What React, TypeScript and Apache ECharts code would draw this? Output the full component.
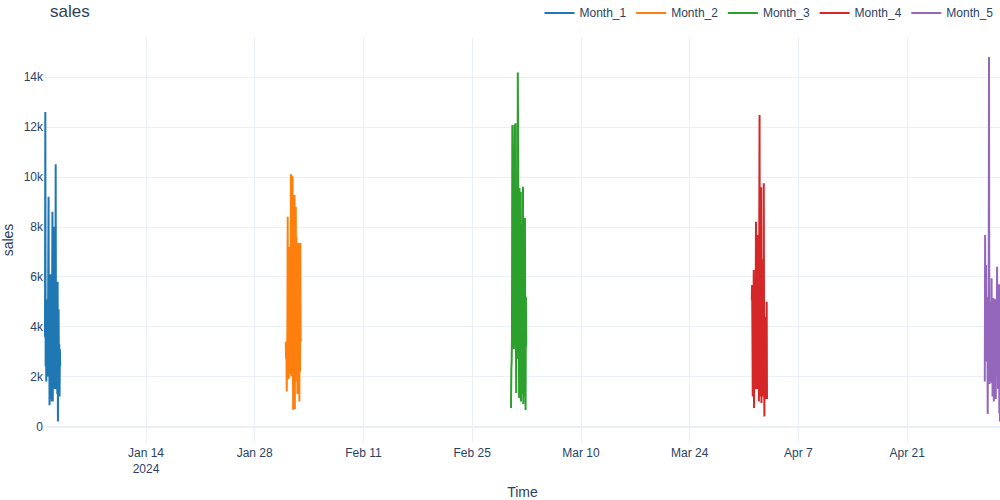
import React, { useEffect, useRef } from "react";
import * as echarts from "echarts";

const SERIES_NAMES = ["Month_1", "Month_2", "Month_3", "Month_4", "Month_5"];
const COLORS = ["#1f77b4", "#ff7f0e", "#2ca02c", "#d62728", "#9467bd"];
// first day of each burst (UTC), hourly samples
const START_DATES = ["2024-01-01", "2024-02-01", "2024-03-01", "2024-04-01", "2024-05-01"];

const month1 = [
  3600, 12600, 2400, 5000, 1800, 4300, 2300, 5100,
  2000, 3000, 6000, 9200, 2400, 4800, 850, 4000,
  1900, 6100, 1100, 4600, 6000, 1000, 5200, 8600,
  1000, 5200, 2600, 4200, 1500, 8000, 2900, 3900,
  1500, 10500, 1800, 4500, 2200, 3600, 1300, 5800,
  200, 2800, 4700, 1900, 3300, 1200, 3100, 2400,
];
const month2 = [
  3400, 2700, 3300, 1400, 2800, 4000, 8400, 2000,
  6500, 1900, 7200, 2100, 5000, 2300, 6800, 3000,
  10100, 2000, 7800, 10050, 3500, 10000, 2600, 660,
  7000, 2200, 8000, 9270, 700, 6000, 2500, 8800,
  1800, 7600, 2200, 6800, 1300, 5500, 2800, 7350,
  1900, 6300, 1000, 7300, 2200, 7350, 3400, 3500,
];
const month3 = [
  740, 2300, 2600, 3500, 12080, 3200, 9000, 3300,
  7500, 3100, 10500, 12100, 3400, 8200, 12150, 4000,
  1340, 6500, 3200, 8800, 2700, 14180, 11150, 3000,
  6200, 1140, 9550, 4200, 1500, 7800, 9400, 1000,
  6600, 2400, 8100, 1300, 5200, 9600, 900, 7400,
  2500, 6300, 1200, 8350, 3500, 660, 5200, 3200,
];
const month4 = [
  5070, 5670, 3800, 1200, 4500, 2000, 6270, 740,
  3500, 1500, 5200, 2200, 4800, 8200, 1500, 5600,
  2000, 6800, 1500, 7670, 1900, 5200, 1000, 7400,
  12480, 1200, 6400, 2300, 7000, 9580, 940, 5000,
  1700, 6700, 2300, 4300, 1200, 9740, 3000, 400,
  4400, 1600, 3800, 1100, 4200, 2000, 5000, 1100,
];
const month5 = [
  1800, 7670, 3000, 3500, 6470, 2600, 5200, 3000,
  4800, 500, 3800, 2000, 4500, 14800, 3700, 1700,
  5000, 2200, 4200, 1800, 3000, 5940, 1740, 4600,
  1200, 3900, 2800, 5150, 1000, 4300, 1900, 4600,
  2500, 5100, 1100, 3600, 2000, 4400, 6400, 2600,
  3800, 1500, 4800, 2200, 5700, 530, 3000, 200,
];
const SERIES_VALUES = [month1, month2, month3, month4, month5];

const X_TICK_DATES = ["2024-01-14", "2024-01-28", "2024-02-11", "2024-02-25", "2024-03-10", "2024-03-24", "2024-04-07", "2024-04-21"];
const MONTH_ABBR = ["Jan", "Feb", "Mar", "Apr", "May", "Jun", "Jul", "Aug", "Sep", "Oct", "Nov", "Dec"];

const Y_MIN = -660;
const Y_MAX = 15600;

const HOUR = 3600 * 1000;
const toUTC = (s: string) => {
  const [y, m, d] = s.split("-").map(Number);
  return Date.UTC(y, m - 1, d);
};

const FONT = "Liberation Sans, Arial, sans-serif";
const TEXT = "#2a3f5f";
const GRID = "#EBF0F8";

export default function App() {
  const ref = useRef<HTMLDivElement>(null);

  useEffect(() => {
    if (!ref.current) return;
    const chart = echarts.init(ref.current, null, { renderer: "svg" });

    const xMin = toUTC(START_DATES[0]);
    const lastStart = toUTC(START_DATES[START_DATES.length - 1]);
    const xMax = lastStart + (SERIES_VALUES[SERIES_VALUES.length - 1].length - 1) * HOUR;
    const tickValues = X_TICK_DATES.map(toUTC);

    const series = SERIES_NAMES.map((name, i) => {
      const t0 = toUTC(START_DATES[i]);
      const s: any = {
        name,
        type: "line",
        showSymbol: false,
        symbol: "none",
        lineStyle: { width: 2, color: COLORS[i] },
        itemStyle: { color: COLORS[i] },
        data: SERIES_VALUES[i].map((v, h) => [t0 + h * HOUR, v]),
        z: 3,
      };
      if (i === 0) {
        s.markLine = {
          silent: true,
          symbol: "none",
          label: { show: false },
          lineStyle: { color: GRID, width: 2, type: "solid" },
          data: [{ yAxis: 0 }],
          z: 1,
        };
      }
      return s;
    });

    chart.setOption({
      animation: false,
      textStyle: { fontFamily: FONT },
      color: COLORS,
      title: {
        text: "sales",
        left: 50,
        top: 3,
        padding: 0,
        textStyle: { fontFamily: FONT, fontSize: 17, fontWeight: "normal", color: TEXT },
      },
      legend: {
        top: 7,
        right: 7,
        padding: 0,
        itemGap: 10,
        itemWidth: 30,
        itemHeight: 2,
        icon: "rect",
        textStyle: { fontFamily: FONT, fontSize: 12, color: TEXT },
        data: SERIES_NAMES,
      },
      grid: { left: 45, right: 0, top: 37, bottom: 57, containLabel: false, outerBoundsMode: "none" },
      xAxis: {
        type: "value",
        min: xMin,
        max: xMax,
        name: "Time",
        nameLocation: "middle",
        nameGap: 42,
        nameTextStyle: { fontFamily: FONT, fontSize: 14, color: TEXT },
        axisLine: { show: false },
        axisTick: { show: false, customValues: tickValues },
        splitLine: { show: true, lineStyle: { color: GRID, width: 1 } },
        axisLabel: {
          customValues: tickValues,
          margin: 2,
          fontFamily: FONT,
          fontSize: 12,
          color: TEXT,
          lineHeight: 16,
          formatter: (v: number) => {
            const d = new Date(v);
            const s = `${MONTH_ABBR[d.getUTCMonth()]} ${d.getUTCDate()}`;
            return v === tickValues[0] ? `${s}\n${d.getUTCFullYear()}` : s;
          },
        },
      },
      yAxis: {
        type: "value",
        min: Y_MIN,
        max: Y_MAX,
        splitNumber: 8,
        name: "sales",
        nameLocation: "middle",
        nameGap: 30,
        nameMoveOverlap: false,
        nameTextStyle: { fontFamily: FONT, fontSize: 14, color: TEXT },
        axisLine: { show: false },
        axisTick: { show: false },
        splitLine: { show: true, showMinLine: false, showMaxLine: false, lineStyle: { color: GRID, width: 1 } },
        axisLabel: {
          showMinLabel: false,
          showMaxLabel: false,
          margin: 2,
          fontFamily: FONT,
          fontSize: 12,
          color: TEXT,
          formatter: (v: number) => (v === 0 ? "0" : `${v / 1000}k`),
        },
      },
      series,
    });

    return () => chart.dispose();
  }, []);

  return (
    <div
      ref={ref}
      style={{ position: "fixed", left: 0, top: 0, width: 1000, height: 500, background: "#fff" }}
    />
  );
}
